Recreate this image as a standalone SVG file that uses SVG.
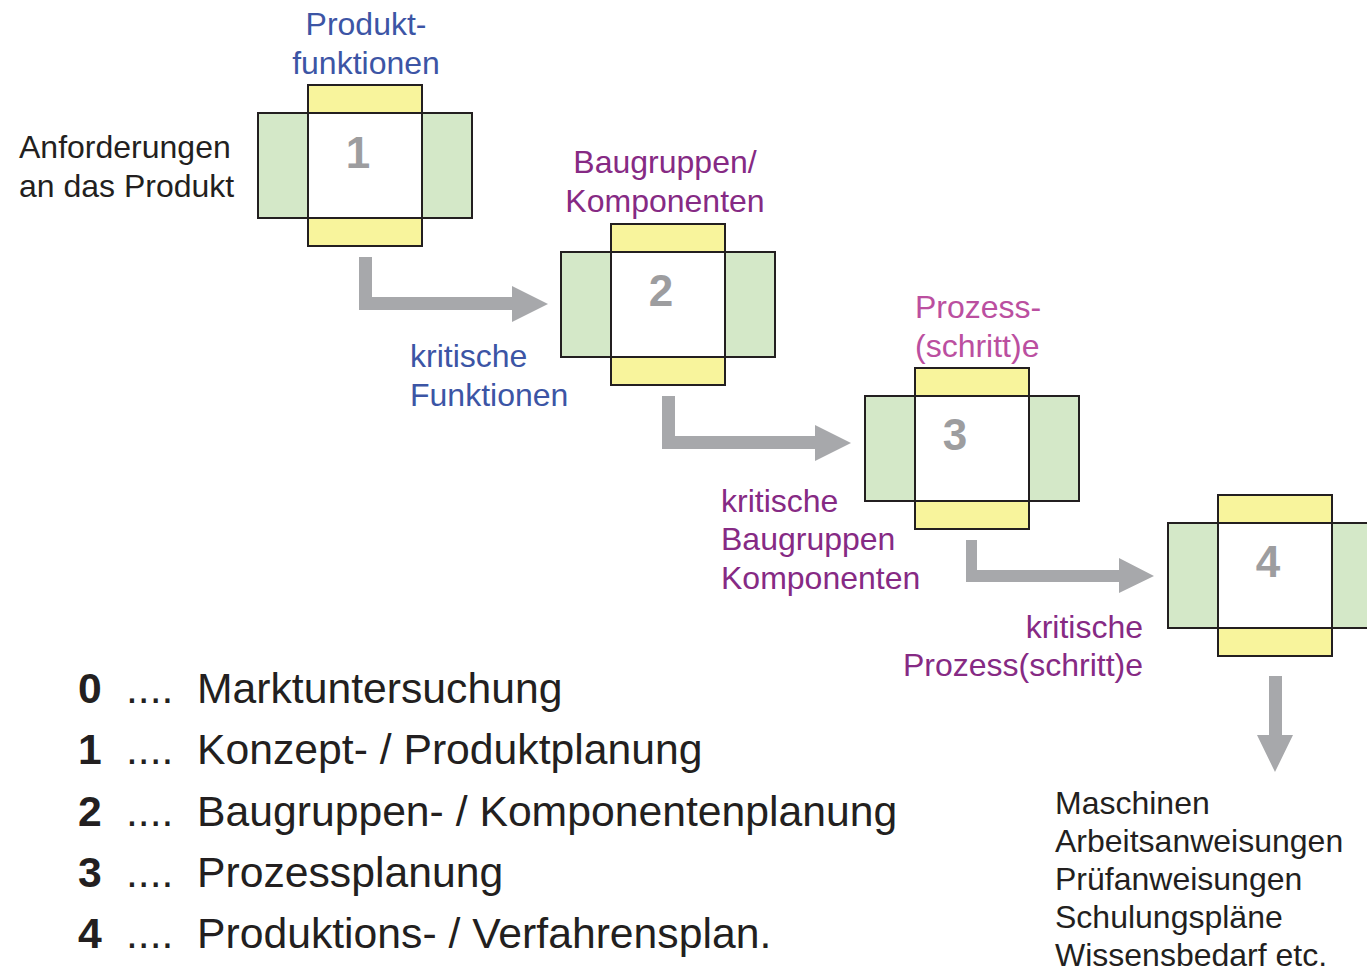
<svg xmlns="http://www.w3.org/2000/svg" width="1367" height="971" viewBox="0 0 1367 971">
  <style>
    .wing { fill: #d4e8c8; stroke: #231f20; stroke-width: 2; }
    .bar { fill: #f8f49c; stroke: #231f20; stroke-width: 2; }
    .core { fill: #ffffff; stroke: #231f20; stroke-width: 2; }
    .num { font-family: "Liberation Sans", Arial, sans-serif; font-weight: bold; font-size: 44px; fill: #9d9d9f; text-anchor: middle; }
    .lbl { font-family: "Liberation Sans", Arial, sans-serif; font-size: 32px; }
    .blue { fill: #3c55a5; }
    .purple { fill: #862a84; }
    .pink { fill: #bb4fa0; }
    .dark { fill: #231f20; }
    .list { font-family: "Liberation Sans", Arial, sans-serif; font-size: 42.7px; fill: #231f20; }
    .listnum { font-weight: bold; }
    .arrow { fill: #a7a8ab; }
  </style>
  <defs>
    <!-- planning stage block: white core with green side wings and yellow top/bottom bars -->
    <g id="stage">
      <rect class="wing" x="-50" y="0" width="50" height="105"/>
      <rect class="wing" x="114" y="0" width="50" height="105"/>
      <rect class="bar" x="0" y="-28" width="114" height="28"/>
      <rect class="bar" x="0" y="105" width="114" height="28"/>
      <rect class="core" x="0" y="0" width="114" height="105"/>
    </g>
  </defs>

  <!-- connectors -->
  <g id="connectors">
    <polygon class="arrow" points="359,257 372,257 372,297 512,297 512,286 548,304 512,322 512,310 359,310"/>
    <polygon class="arrow" points="662,396 675,396 675,436 815,436 815,425 851,443 815,461 815,449 662,449"/>
    <polygon class="arrow" points="966,540 977,540 977,570 1119,570 1119,558 1154,576 1119,593 1119,582 966,582"/>
    <polygon class="arrow" points="1269,676 1282,676 1282,735 1293,735 1275,772 1257,735 1269,735"/>
  </g>

  <!-- stage 1 -->
  <g id="node1">
    <use href="#stage" transform="translate(308,113)"/>
    <text class="num" x="358" y="168">1</text>
    <text class="lbl blue" x="366" y="35" text-anchor="middle">Produkt-</text>
    <text class="lbl blue" x="366" y="74" text-anchor="middle">funktionen</text>
    <text class="lbl dark" x="19" y="158">Anforderungen</text>
    <text class="lbl dark" x="19" y="197">an das Produkt</text>
  </g>

  <!-- stage 2 -->
  <g id="node2">
    <use href="#stage" transform="translate(611,252)"/>
    <text class="num" x="661" y="306">2</text>
    <text class="lbl purple" x="665" y="173" text-anchor="middle">Baugruppen/</text>
    <text class="lbl purple" x="665" y="212" text-anchor="middle">Komponenten</text>
    <text class="lbl blue" x="410" y="367">kritische</text>
    <text class="lbl blue" x="410" y="406">Funktionen</text>
  </g>

  <!-- stage 3 -->
  <g id="node3">
    <use href="#stage" transform="translate(915,396)"/>
    <text class="num" x="955" y="450">3</text>
    <text class="lbl pink" x="915" y="318">Prozess-</text>
    <text class="lbl pink" x="915" y="357">(schritt)e</text>
    <text class="lbl purple" x="721" y="512">kritische</text>
    <text class="lbl purple" x="721" y="550">Baugruppen</text>
    <text class="lbl purple" x="721" y="589">Komponenten</text>
  </g>

  <!-- stage 4 -->
  <g id="node4">
    <use href="#stage" transform="translate(1218,523)"/>
    <text class="num" x="1268" y="577">4</text>
    <text class="lbl purple" x="1143" y="638" text-anchor="end">kritische</text>
    <text class="lbl purple" x="1143" y="676" text-anchor="end">Prozess(schritt)e</text>
  </g>

  <!-- outputs -->
  <g id="outputs">
    <text class="lbl dark" x="1055" y="814">Maschinen</text>
    <text class="lbl dark" x="1055" y="852">Arbeitsanweisungen</text>
    <text class="lbl dark" x="1055" y="890">Prüfanweisungen</text>
    <text class="lbl dark" x="1055" y="928">Schulungspläne</text>
    <text class="lbl dark" x="1055" y="966">Wissensbedarf etc.</text>
  </g>

  <!-- legend -->
  <g id="legend" class="list">
    <text class="listnum" x="78" y="703">0</text>
    <text x="126" y="703">....</text>
    <text x="197" y="703">Marktuntersuchung</text>
    <text class="listnum" x="78" y="764">1</text>
    <text x="126" y="764">....</text>
    <text x="197" y="764">Konzept- / Produktplanung</text>
    <text class="listnum" x="78" y="826">2</text>
    <text x="126" y="826">....</text>
    <text x="197" y="826">Baugruppen- / Komponentenplanung</text>
    <text class="listnum" x="78" y="887">3</text>
    <text x="126" y="887">....</text>
    <text x="197" y="887">Prozessplanung</text>
    <text class="listnum" x="78" y="948">4</text>
    <text x="126" y="948">....</text>
    <text x="197" y="948">Produktions- / Verfahrensplan.</text>
  </g>
</svg>
